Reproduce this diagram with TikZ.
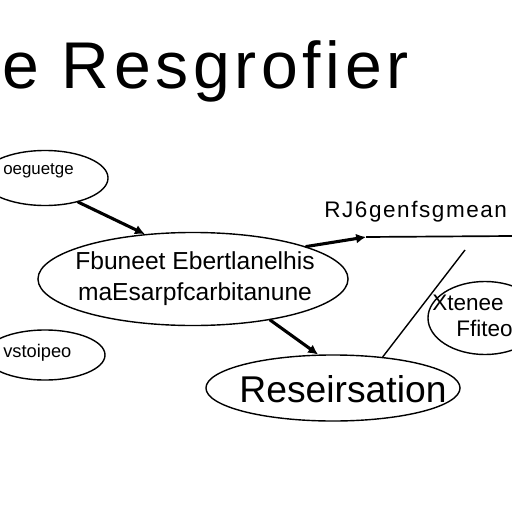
\documentclass[tikz,border=0pt]{standalone}
\usepackage{fontspec}
\setmainfont{Liberation Sans}
\newfontfamily\widefont[LetterSpace=7]{Liberation Sans}
\usepackage{tikz}
\usetikzlibrary{arrows.meta,shapes.geometric}

\tikzset{
  bubble/.style={draw, ellipse, line width=1pt, inner sep=0pt},
  link/.style={line width=2.2pt, line cap=round, -{Latex[length=7pt,width=7pt]}},
}

\begin{document}
\begin{tikzpicture}[x=0.025cm,y=-0.025cm]
        \useasboundingbox (0,0) rectangle (512,512);
        \fill[white] (0,0) rectangle (512,512);
        \node[anchor=base west, inner sep=0pt, font=\widefont\fontsize{47}{50}\selectfont] (title) at (2,88) {e Resgrofier};
        \node[bubble, minimum width=3.15cm, minimum height=1.375cm] (gene) at (45,178) {};
        \node[bubble, minimum width=7.75cm, minimum height=2.325cm] (main) at (193,279) {};
        \node[bubble, minimum width=3cm, minimum height=1.25cm] (vsto) at (45,355) {};
        \node[bubble, minimum width=6.35cm, minimum height=1.65cm] (res) at (333,388) {};
        \node[bubble, minimum width=2.85cm, minimum height=1.825cm] (xten) at (485,318) {};
        \node[anchor=west, inner sep=0pt, font=\fontsize{12}{14}\selectfont] (genetxt) at (3,171) {oeguetge};
        \node[align=center, font=\fontsize{17.5}{22}\selectfont] (maintxt) at (195,279) {Fbuneet Ebertlanelhis\\maEsarpfcarbitanune};
        \node[anchor=west, inner sep=0pt, font=\fontsize{13}{14}\selectfont] (vstotxt) at (3,353) {vstoipeo};
        \node[font=\fontsize{26.5}{30}\selectfont] (restxt) at (343,389) {Reseirsation};
        \node[anchor=base west, inner sep=0pt, font=\fontsize{16}{18}\selectfont] (xtentxt) at (432,310) {Xtenee};
        \node[anchor=base west, inner sep=0pt, font=\fontsize{16}{18}\selectfont] (ffitxt) at (456,336) {Ffiteo};
        \node[anchor=base west, inner sep=0pt, font=\widefont\fontsize{16}{18}\selectfont] (regtxt) at (324,217) {RJ6genfsgmean};
        \coordinate (rtip) at (366,237);
        \coordinate (rend) at (512,236);
        \coordinate (dtop) at (465,250);
        \draw[link] (gene.-36) -- (main.137);
        \draw[link] (main.16) -- (rtip);
        \draw[line width=1.2pt] (rtip) -- (rend);
        \draw[link] (main.-28) -- (res.114);
        \draw[line width=1pt] (dtop) -- (res.32);
    \end{tikzpicture}
\end{document}
